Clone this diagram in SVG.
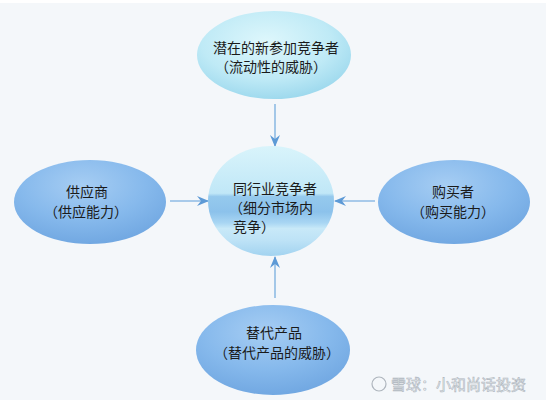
<svg xmlns="http://www.w3.org/2000/svg" width="546" height="400" viewBox="0 0 546 400">
<defs>
<style>
.t{font-family:"Noto Sans CJK SC","Noto Sans",sans-serif;font-size:14px;fill:#1a1a1a;text-anchor:middle}
.tl{text-anchor:start}
.c{stroke:#8fbbe4;stroke-width:1.6;fill:none;marker-end:url(#ah)}
.wm{font-family:"Noto Sans CJK SC",sans-serif;font-size:15px;fill:#f2f5f8;stroke:#aeb5bd;stroke-width:0.6}
</style>
<radialGradient id="gTop" cx="0.45" cy="0.35" r="0.7">
<stop offset="0" stop-color="#def7fc"/>
<stop offset="0.6" stop-color="#bfeaf6"/>
<stop offset="1" stop-color="#98d6ec"/>
</radialGradient>
<radialGradient id="gBlue" cx="0.45" cy="0.3" r="0.75">
<stop offset="0" stop-color="#a6cdf3"/>
<stop offset="0.55" stop-color="#86b9ec"/>
<stop offset="1" stop-color="#6ea5e0"/>
</radialGradient>
<linearGradient id="gMid" x1="0" y1="0" x2="0" y2="1">
<stop offset="0" stop-color="#d9f4fb"/>
<stop offset="0.43" stop-color="#c0e7f7"/>
<stop offset="0.46" stop-color="#95c9ed"/>
<stop offset="0.6" stop-color="#8cc2eb"/>
<stop offset="0.7" stop-color="#a9d6f3"/>
<stop offset="0.75" stop-color="#c8e9f8"/>
<stop offset="0.86" stop-color="#bde2f6"/>
<stop offset="1" stop-color="#a2d3f0"/>
</linearGradient>
<marker id="ah" viewBox="0 0 12 10" refX="11" refY="5" markerWidth="12" markerHeight="10" markerUnits="userSpaceOnUse" orient="auto">
<path d="M0,0 L12,5 L0,10 L4,5 Z" fill="#5d9ad6"/>
</marker>
</defs>
<rect width="546" height="400" fill="#f4f7fa"/>
<rect width="546" height="3" fill="#ffffff"/>
<g id="connectors">
<line class="c" x1="275" y1="104" x2="275" y2="146"/>
<line class="c" x1="275" y1="298" x2="275" y2="257"/>
<line class="c" x1="170" y1="201" x2="208" y2="201"/>
<line class="c" x1="375" y1="201" x2="335" y2="201"/>
</g>
<g id="node-entrants">
<ellipse cx="274" cy="55" rx="77" ry="44" fill="url(#gTop)"/>
<text class="t" x="276" y="53">潜在的新参加竞争者</text>
<text class="t" x="271" y="72">（流动性的威胁）</text>
</g>
<g id="node-industry">
<ellipse cx="271" cy="201" rx="63" ry="55" fill="url(#gMid)"/>
<text class="t tl" x="233" y="194">同行业竞争者</text>
<text class="t tl" x="229" y="213">（细分市场内</text>
<text class="t tl" x="233" y="232">竞争）</text>
</g>
<g id="node-suppliers">
<ellipse cx="90" cy="202" rx="76" ry="42" fill="url(#gBlue)"/>
<text class="t" x="87" y="197">供应商</text>
<text class="t" x="86" y="217">（供应能力）</text>
</g>
<g id="node-buyers">
<ellipse cx="454" cy="202" rx="76" ry="42" fill="url(#gBlue)"/>
<text class="t" x="453" y="197">购买者</text>
<text class="t" x="453" y="217">（购买能力）</text>
</g>
<g id="node-substitutes">
<ellipse cx="273" cy="350" rx="77" ry="45" fill="url(#gBlue)"/>
<text class="t" x="274" y="338">替代产品</text>
<text class="t" x="277" y="358">（替代产品的威胁）</text>
</g>
<g id="watermark">
<circle cx="379" cy="384" r="7" fill="none" stroke="#aeb5bd" stroke-width="1.2"/>
<text class="wm" x="391" y="390">雪球：小和尚话投资</text>
</g>
</svg>
